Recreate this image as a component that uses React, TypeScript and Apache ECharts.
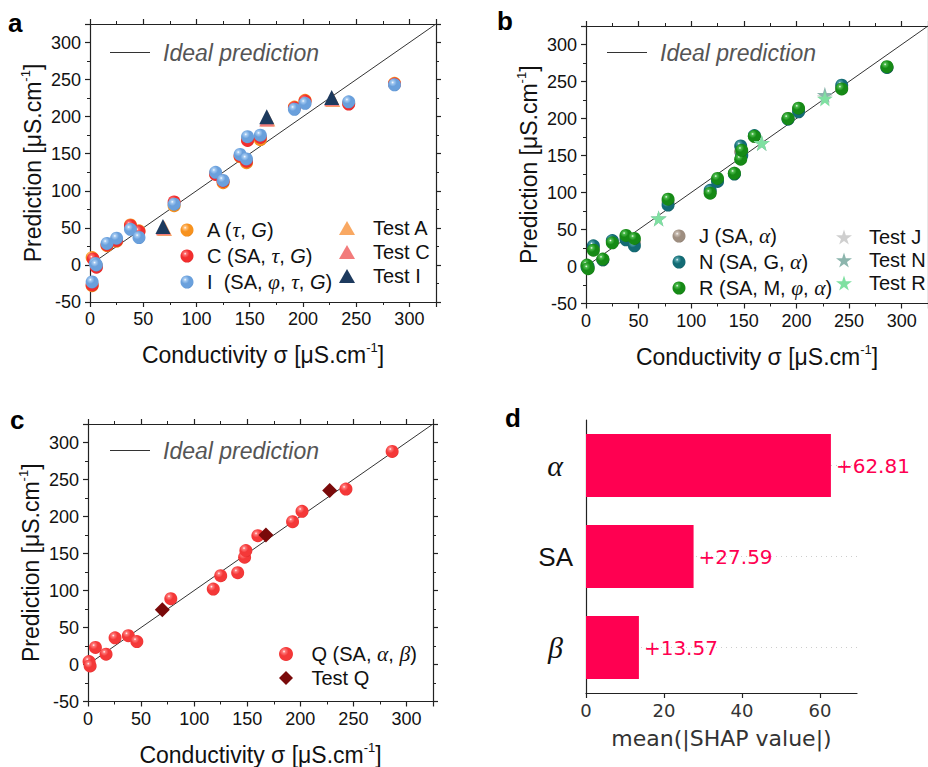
import React, { useEffect, useRef } from 'react';
import * as echarts from 'echarts';

// ---------------- Data ----------------
// Panel a
const aTrainA = [[2,-28],[2,10],[6,-1],[16,26],[25,32],[38,54],[46,46],[79,80],[118,123],[125,111],[141,146],[147,138],[148,169],[160,169],[192,213],[202,222],[243,218],[286,245]];
const aTrainC = [[2,-27],[3,8],[6,-3],[16,27],[25,33],[38,53],[46,45],[79,85],[118,122],[125,113],[141,147],[147,140],[148,168],[160,172],[192,212],[202,221],[243,217],[286,244]];
const aTrainI = [[2,-23],[5,2],[6,0],[16,29],[25,36],[38,48],[46,37],[79,82],[118,125],[125,114],[141,149],[147,143],[148,173],[160,175],[192,210],[202,218],[243,220],[286,243]];
const aTestA = [[70,49],[167,197],[228,223]];
const aTestC = [[69,50],[166,197],[227,224]];
const aTestI = [[68.5,52],[166,200],[227,226]];
// Panel b
const bTrainJ = [[1,1],[2,-2],[7,25],[16,9],[25,34],[38,40],[46,33],[78,87],[118,101],[125,117],[141,126],[147,155],[148,152],[160,176],[192,200],[202,212],[243,242],[286,269]];
const bTrainN = [[1,-1],[2,0],[7,28],[16,9],[25,35],[38,36],[46,28],[78,83],[118,103],[125,115],[141,125],[147,163],[148,150],[160,177],[192,199],[202,209],[243,245],[286,269]];
const bTrainR = [[1,2],[2,-3],[7,22],[16,10],[25,32],[38,42],[46,38],[78,91],[118,99],[125,119],[141,126],[147,145],[148,157],[160,176],[192,200],[202,214],[243,240],[286,270]];
const bTestJ = [[69,65],[167,167],[227,229]];
const bTestN = [[69,65],[167,167],[227,232]];
const bTestR = [[69,65],[167,167],[227,227]];
// Panel c
const cTrainQ = [[1,4],[2,-2],[7,23],[17,14],[25.5,36],[38,39],[46,31],[78,89],[118,102],[125,120],[141,124],[147.5,145],[148.7,154],[160,174],[192.7,193],[201.6,207],[243,237],[286.5,288]];
const cTestQ = [[70,74],[167.6,175],[227.7,235]];
// Ideal line
const idealLine = [[0,0],[325,325]];
// Panel d
const shapFeatures = ['β','SA','α'];
const shapValues = [13.57, 27.59, 62.81];
const shapMax = 69.5;
const shapTicks = [0,20,40,60];

// ---------------- Styling ----------------
const FONT = 'Liberation Sans, Arial, sans-serif';
const SERIF = 'Liberation Serif, Times New Roman, serif';
const DV = 'DejaVu Sans, sans-serif';
const STAR = 'path://M50,0 L61,35 L98,35 L68,57 L79,91 L50,70 L21,91 L32,57 L2,35 L39,35 Z';

const sphere = (light: string, base: string, dark: string) => ({
  type: 'radial', x: 0.36, y: 0.32, r: 0.8,
  colorStops: [
    { offset: 0, color: '#ffffff' },
    { offset: 0.13, color: light },
    { offset: 0.4, color: base },
    { offset: 0.8, color: base },
    { offset: 1, color: dark },
  ],
});

const NAME_RICH = {
  n: { fontSize: 23, fontFamily: FONT, color: '#111', lineHeight: 28 },
  s: { fontSize: 13, fontFamily: FONT, color: '#111', lineHeight: 16, verticalAlign: 'top' },
};
const X_NAME = '{n|Conductivity σ [μS.cm}{s|-1}{n|]}';
const Y_NAME = '{n|Prediction [μS.cm}{s|-1}{n|]}';

const LEG_RICH = {
  t: { fontFamily: FONT, fontSize: 20, color: '#111', lineHeight: 20 },
  g: { fontFamily: SERIF, fontStyle: 'italic', fontSize: 21.5, color: '#111', lineHeight: 20 },
  i: { fontFamily: FONT, fontStyle: 'italic', fontSize: 20, color: '#111', lineHeight: 20 },
  p: { fontFamily: FONT, fontStyle: 'italic', fontSize: 23, color: '#555', lineHeight: 26 },
};
const LEG_TEXT: Record<string, string> = {
  'A (τ, G)': '{t|A (}{g|τ}{t|, }{i|G}{t|)}',
  'C (SA, τ, G)': '{t|C (SA, }{g|τ}{t|, }{i|G}{t|)}',
  'I  (SA, φ, τ, G)': '{t|I  (SA, }{g|φ}{t|, }{g|τ}{t|, }{i|G}{t|)}',
  'J (SA, α)': '{t|J (SA, }{g|α}{t|)}',
  'N (SA, G, α)': '{t|N (SA, G, }{g|α}{t|)}',
  'R (SA, M, φ, α)': '{t|R (SA, M, }{g|φ}{t|, }{g|α}{t|)}',
  'Q (SA, α, β)': '{t|Q (SA, }{g|α}{t|, }{g|β}{t|)}',
  'Ideal prediction': '{p|Ideal prediction}',
};
const legFmt = (name: string) => LEG_TEXT[name] || `{t|${name}}`;

const AX = '#222';
const tickCfg = { show: true, inside: false, length: 5, lineStyle: { color: AX, width: 1.2 } };
const minorCfg = { show: true, splitNumber: 2, length: 3, lineStyle: { color: AX, width: 1 } };
const lineCfg = { show: true, onZero: false, lineStyle: { color: AX, width: 1.2 } };

function scatterXAxes(gi: number) {
  return [
    {
      type: 'value', gridIndex: gi, position: 'bottom', min: 0, max: 325, interval: 50,
      axisLine: lineCfg, axisTick: tickCfg, minorTick: minorCfg,
      splitLine: { show: false }, minorSplitLine: { show: false },
      axisLabel: { fontSize: 18, fontFamily: FONT, color: '#111', margin: 8, showMaxLabel: false },
      name: X_NAME, nameLocation: 'middle', nameGap: 39, nameTextStyle: { rich: NAME_RICH },
    },
    {
      type: 'value', gridIndex: gi, position: 'top', min: 0, max: 325, interval: 50,
      axisLine: lineCfg, axisTick: tickCfg, minorTick: minorCfg,
      splitLine: { show: false }, axisLabel: { show: false },
    },
  ];
}
function scatterYAxes(gi: number) {
  return [
    {
      type: 'value', gridIndex: gi, position: 'left', min: -50, max: 325, interval: 50,
      axisLine: lineCfg, axisTick: tickCfg, minorTick: minorCfg,
      splitLine: { show: false }, minorSplitLine: { show: false },
      axisLabel: { fontSize: 18, fontFamily: FONT, color: '#111', margin: 9, showMaxLabel: false },
      name: Y_NAME, nameLocation: 'middle', nameGap: 43, nameTextStyle: { rich: NAME_RICH },
    },
    {
      type: 'value', gridIndex: gi, position: 'right', min: -50, max: 325, interval: 50,
      axisLine: lineCfg, axisTick: tickCfg, minorTick: minorCfg,
      splitLine: { show: false }, axisLabel: { show: false },
    },
  ];
}

function ideal(p: number) {
  return {
    type: 'line', name: 'Ideal prediction', xAxisIndex: 2 * p, yAxisIndex: 2 * p,
    data: idealLine, symbol: 'none', silent: true, z: 1, color: '#333',
    itemStyle: { color: '#333' },
    lineStyle: { color: '#333', width: 1 },
  };
}
function sc(p: number, name: string, data: number[][], symbol: string, size: number, color: any, z = 3) {
  return {
    type: 'scatter', name, xAxisIndex: 2 * p, yAxisIndex: 2 * p, data, symbol, symbolSize: size,
    itemStyle: { color, opacity: 1 }, clip: false, z,
  };
}

const cA = sphere('#ffc07a', '#f7921e', '#d06c08');
const cC = sphere('#ff7070', '#f22e2e', '#c01818');
const cI = sphere('#a6cbf2', '#6aa0dc', '#4379ba');
const cJ = sphere('#c9bdb2', '#9e8e80', '#6f6157');
const cN = sphere('#4fa0a8', '#136b74', '#0b474e');
const cR = sphere('#4cbc4c', '#168a16', '#0b5e0b');
const cQ = sphere('#ff7a7a', '#f43838', '#c81e1e');

const legendBase = (pad: number) => ({
  orient: 'vertical', selectedMode: false, formatter: legFmt, padding: 0,
  textStyle: { rich: LEG_RICH, color: '#111', padding: [0, 0, 0, pad] },
});
const lineIcon = 'path://M0,0 L40,0 L40,1 L0,1 Z';

const option: any = {
  animation: false,
  backgroundColor: '#ffffff',
  grid: [
    { left: 90, top: 24, width: 346, height: 278 },
    { left: 586, top: 26, width: 345, height: 277.5 },
    { left: 88, top: 424, width: 345, height: 278 },
    { left: 586, top: 420, width: 271, height: 273 },
  ],
  xAxis: [
    ...scatterXAxes(0), ...scatterXAxes(1), ...scatterXAxes(2),
    {
      type: 'value', gridIndex: 3, min: 0, max: shapMax,
      axisLine: lineCfg,
      axisTick: { show: true, length: 5, lineStyle: { color: AX, width: 1.2 }, customValues: shapTicks },
      splitLine: { show: false },
      axisLabel: { fontSize: 18, fontFamily: DV, color: '#333', margin: 8, customValues: shapTicks },
      name: 'mean(|SHAP value|)', nameLocation: 'middle', nameGap: 34,
      nameTextStyle: { fontSize: 22, fontFamily: DV, color: '#333' },
    },
  ],
  yAxis: [
    ...scatterYAxes(0), ...scatterYAxes(1), ...scatterYAxes(2),
    {
      type: 'category', gridIndex: 3, data: shapFeatures,
      axisLine: lineCfg, axisTick: { show: false },
      axisLabel: {
        margin: 13,
        formatter: (v: string) => (v === 'SA' ? `{s|${v}}` : `{g|${v}}`),
        rich: {
          s: { fontSize: 26, fontFamily: FONT, color: '#111' },
          g: { fontSize: 30, fontFamily: SERIF, fontStyle: 'italic', color: '#111', padding: [0, 10, 0, 0] },
        },
      },
    },
  ],
  legend: [
    { ...legendBase(8), data: [{ name: 'Ideal prediction', icon: lineIcon }], left: 110, top: 41, itemWidth: 40, itemHeight: 1.2, itemStyle: { color: '#333' } },
    { ...legendBase(8), data: [{ name: 'Ideal prediction', icon: lineIcon }], left: 607, top: 41, itemWidth: 40, itemHeight: 1.2, itemStyle: { color: '#333' } },
    { ...legendBase(8), data: [{ name: 'Ideal prediction', icon: lineIcon }], left: 110, top: 439, itemWidth: 40, itemHeight: 1.2, itemStyle: { color: '#333' } },
    { ...legendBase(8.5), data: ['A (τ, G)', 'C (SA, τ, G)', 'I  (SA, φ, τ, G)'], left: 180.5, top: 219, itemWidth: 13, itemHeight: 13, itemGap: 4 },
    { ...legendBase(13), data: ['Test A', 'Test C', 'Test I'], left: 339, top: 218, itemWidth: 16, itemHeight: 14, itemGap: 4 },
    { ...legendBase(8.5), data: ['J (SA, α)', 'N (SA, G, α)', 'R (SA, M, φ, α)'], left: 672.5, top: 225, itemWidth: 13, itemHeight: 13, itemGap: 4 },
    { ...legendBase(12), data: ['Test J', 'Test N', 'Test R'], left: 836, top: 227, itemWidth: 16, itemHeight: 16, itemGap: 3 },
    { ...legendBase(13.5), data: ['Q (SA, α, β)', 'Test Q'], left: 279, top: 643, itemWidth: 14, itemHeight: 14, itemGap: 3 },
  ],
  graphic: [
    { type: 'text', left: 8, top: 10, style: { text: 'a', font: 'bold 26px Liberation Sans', fill: '#000' } },
    { type: 'text', left: 497, top: 8, style: { text: 'b', font: 'bold 26px Liberation Sans', fill: '#000' } },
    { type: 'text', left: 10, top: 407, style: { text: 'c', font: 'bold 26px Liberation Sans', fill: '#000' } },
    { type: 'text', left: 505, top: 405, style: { text: 'd', font: 'bold 26px Liberation Sans', fill: '#000' } },
  ],
  series: [
    ideal(0), ideal(1), ideal(2),
    // panel a
    sc(0, 'A (τ, G)', aTrainA, 'circle', 13, cA),
    sc(0, 'C (SA, τ, G)', aTrainC, 'circle', 13, cC),
    sc(0, 'I  (SA, φ, τ, G)', aTrainI, 'circle', 13, cI),
    sc(0, 'Test A', aTestA, 'triangle', 15, '#f9a862'),
    sc(0, 'Test C', aTestC, 'triangle', 15, '#f27b7b'),
    sc(0, 'Test I', aTestI, 'triangle', 15, '#1d3a5e'),
    // panel b
    sc(1, 'J (SA, α)', bTrainJ, 'circle', 13, cJ),
    sc(1, 'N (SA, G, α)', bTrainN, 'circle', 13, cN),
    sc(1, 'R (SA, M, φ, α)', bTrainR, 'circle', 13, cR),
    sc(1, 'Test J', bTestJ, STAR, 16, '#cfcfcf'),
    sc(1, 'Test N', bTestN, STAR, 16, '#8cb5ad'),
    sc(1, 'Test R', bTestR, STAR, 16, '#7fe0a1'),
    // panel c
    sc(2, 'Q (SA, α, β)', cTrainQ, 'circle', 13, cQ),
    sc(2, 'Test Q', cTestQ, 'diamond', 15, '#7a0a0a'),
    // panel d dotted guide lines
    ...shapFeatures.map((f) => ({
      type: 'line', xAxisIndex: 6, yAxisIndex: 6, data: [[0, f], [shapMax, f]], symbol: 'none', silent: true, z: 1,
      lineStyle: { color: '#cccccc', width: 1, type: [1, 4] },
    })),
    {
      type: 'bar', name: 'shap', xAxisIndex: 6, yAxisIndex: 6, data: shapValues, barWidth: 63, z: 2,
      itemStyle: { color: '#ff0051' },
      label: {
        show: true, position: 'right', distance: 5, color: '#ff0051', fontSize: 20, fontFamily: DV,
        formatter: (p: any) => '+' + Number(p.value).toFixed(2),
      },
    },
  ],
};

export default function App() {
  const ref = useRef<HTMLDivElement>(null);
  useEffect(() => {
    const chart = echarts.init(ref.current!, null, { renderer: 'svg' });
    chart.setOption(option);
    return () => chart.dispose();
  }, []);
  return (
    <div
      ref={ref}
      style={{ position: 'absolute', left: 0, top: 0, width: 928, height: 767, background: '#fff' }}
    />
  );
}
